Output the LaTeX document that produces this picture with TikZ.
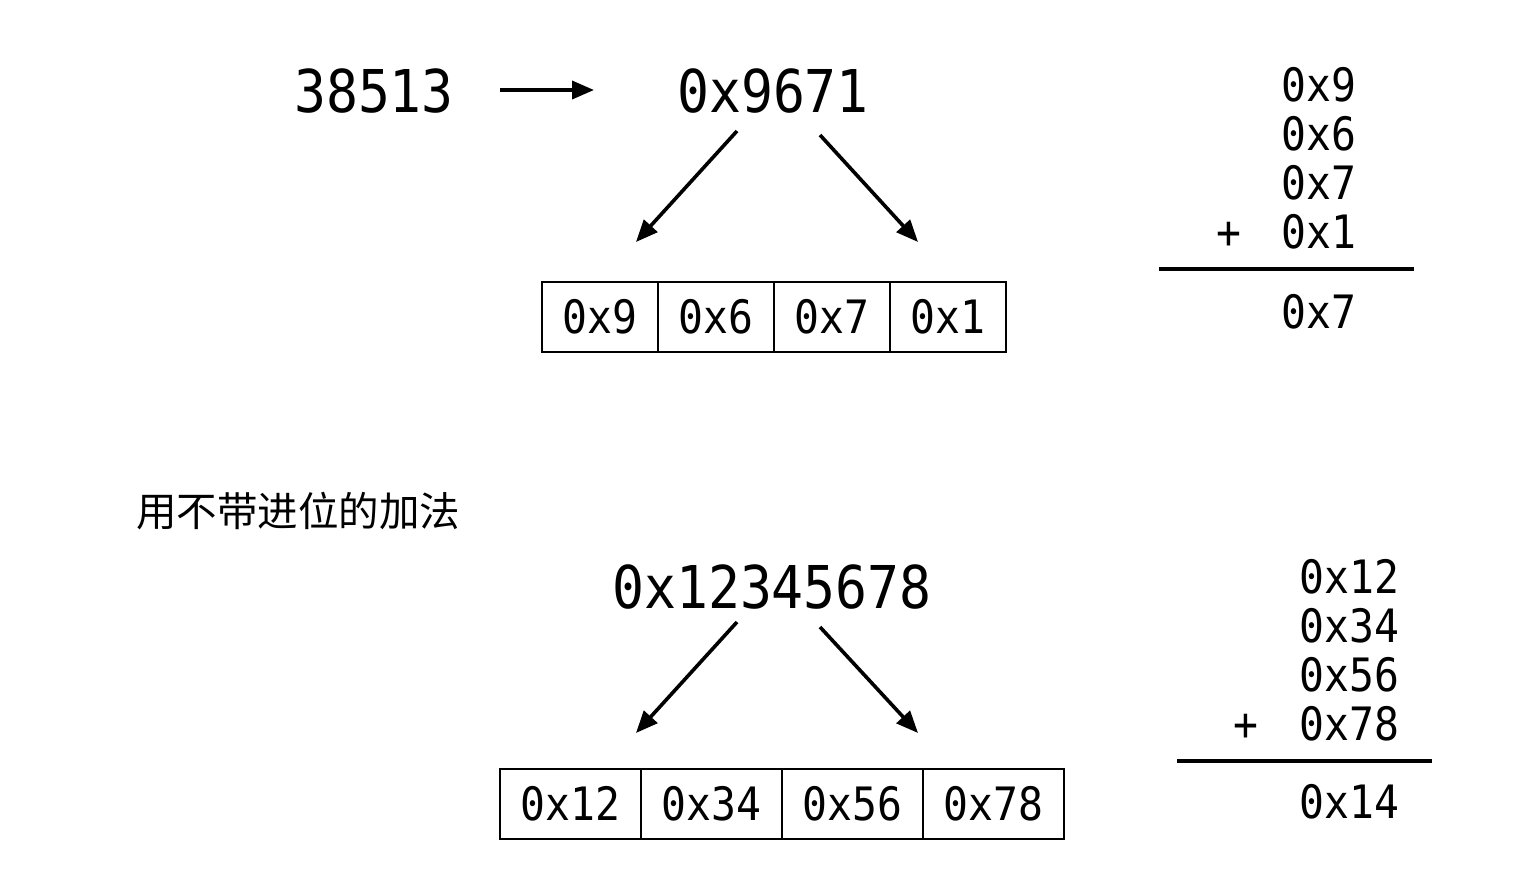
\documentclass[tikz,border=0pt]{standalone}
\usepackage{fontspec}
\newfontfamily\monof[FakeStretch=0.9]{DejaVu Sans Mono}
\newfontfamily\cjk{Noto Sans CJK SC}
\usetikzlibrary{arrows.meta}
\begin{document}
\begin{tikzpicture}[x=0.5pt,y=-0.5pt,
  big/.style={font=\monof\fontsize{29.5}{30}\selectfont, inner sep=0pt, anchor=base},
  small/.style={font=\monof\fontsize{23}{24}\selectfont, inner sep=0pt},
  stk/.style={small, anchor=base west},
  plus/.style={small, anchor=base},
  cellA/.style={small, draw, line width=1.2pt, outer sep=0pt, minimum width=58pt, minimum height=35pt, text height=16.6pt, text depth=0pt},
  cellB/.style={cellA, minimum width=70.5pt},
  arr/.style={line width=1.8pt, -{Triangle[length=11pt,width=9pt]}},
  rule/.style={line width=2pt}]
\useasboundingbox (0,0) rectangle (1540,890);
\fill[white] (0,0) rectangle (1540,890);

% ---- top part ----
\node[big] (num) at (374,112) {38513};
\node[big] (hexA) at (773,112) {0x9671};
\coordinate (aS) at (500,90);
\coordinate (aE) at (594,90);
\draw[arr] (aS) -- (aE);

\node[cellA] (a1) at (600,317) {0x9};
\node[cellA, anchor=west] (a2) at (a1.east) {0x6};
\node[cellA, anchor=west] (a3) at (a2.east) {0x7};
\node[cellA, anchor=west] (a4) at (a3.east) {0x1};

\coordinate (l1s) at (737,131);
\coordinate (l1e) at (636,242);
\coordinate (r1s) at (820,135);
\coordinate (r1e) at (918,242);
\draw[arr] (l1s) -- (l1e);
\draw[arr] (r1s) -- (r1e);

\node[stk] (s1) at (1281,101) {0x9};
\node[stk] (s2) at (1281,150) {0x6};
\node[stk] (s3) at (1281,199) {0x7};
\node[stk] (s4) at (1281,248) {0x1};
\node[plus] (p1) at (1229,248) {+};
\draw[rule] (1159,269) -- (1414,269);
\node[stk] (sr) at (1281,328) {0x7};

% ---- caption ----
\node[font=\cjk\fontsize{20.25}{22}\selectfont, inner sep=0pt, anchor=base west] (cap) at (136,526) {用不带进位的加法};

% ---- bottom part ----
\node[big] (hexB) at (772,608) {0x12345678};

\node[cellB] (b1) at (570.5,804) {0x12};
\node[cellB, anchor=west] (b2) at (b1.east) {0x34};
\node[cellB, anchor=west] (b3) at (b2.east) {0x56};
\node[cellB, anchor=west] (b4) at (b3.east) {0x78};

\coordinate (l2s) at (737,622);
\coordinate (l2e) at (636,733);
\coordinate (r2s) at (820,627);
\coordinate (r2e) at (918,733);
\draw[arr] (l2s) -- (l2e);
\draw[arr] (r2s) -- (r2e);

\node[stk] (t1) at (1299,593) {0x12};
\node[stk] (t2) at (1299,642) {0x34};
\node[stk] (t3) at (1299,691) {0x56};
\node[stk] (t4) at (1299,740) {0x78};
\node[plus] (p2) at (1246,740) {+};
\draw[rule] (1177,761) -- (1432,761);
\node[stk] (tr) at (1299,818) {0x14};
\end{tikzpicture}
\end{document}
